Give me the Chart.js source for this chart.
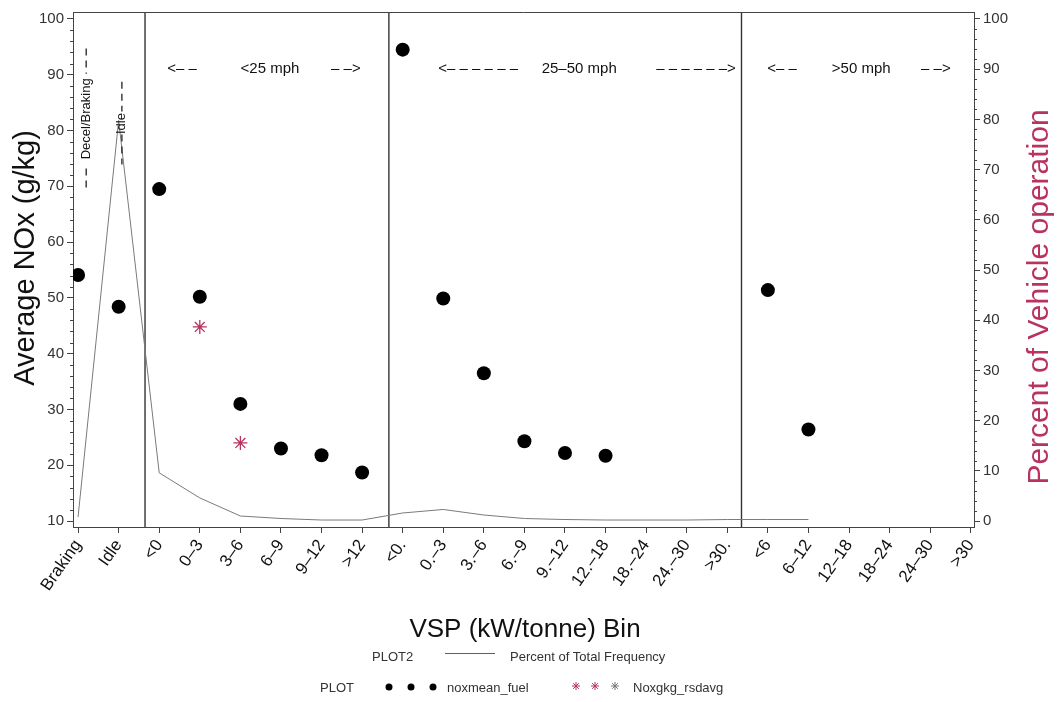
<!DOCTYPE html>
<html>
<head>
<meta charset="utf-8">
<script src="https://cdn.jsdelivr.net/npm/chart.js@4.4.1/dist/chart.umd.min.js"></script>
<style>
  html, body { margin: 0; padding: 0; background: #fff; }
  #wrap { width: 1057px; height: 702px; position: relative; }
  canvas { display: block; }
</style>
</head>
<body>
<div id="wrap"><canvas id="c" width="1057" height="702"></canvas></div>
<script>
// VSP bins, grouped by speed regime
const categories = [
  'Braking', 'Idle',
  '<0', '0–3', '3–6', '6–9', '9–12', '>12',
  '<0.', '0.–3', '3.–6', '6.–9', '9.–12', '12.–18', '18.–24', '24.–30', '>30.',
  '<6', '6–12', '12–18', '18–24', '24–30', '>30'
];

// Average NOx (g/kg) per bin
const noxmeanFuel = [
  54.1, 48.4,
  69.5, 50.2, 31.0, 23.0, 21.8, 18.7,
  94.5, 49.9, 36.5, 24.3, 22.2, 21.7, null, null, null,
  51.4, 26.4, null, null, null, null
];

// Remote-sensing averages (g/kg)
const noxgkgRsdavg = [
  null, null,
  null, 44.8, 24.0, null, null, null,
  null, null, null, null, null, null, null, null, null,
  null, null, null, null, null, null
];

// Percent of total vehicle operation per bin
const percentFrequency = [
  0.8, 79.8,
  9.6, 4.6, 1.0, 0.5, 0.2, 0.2,
  1.6, 2.3, 1.2, 0.5, 0.3, 0.2, 0.2, 0.2, 0.3,
  0.3, 0.3, null, null, null, null
];

const leftTicks = [10, 20, 30, 40, 50, 60, 70, 80, 90, 100];
const rightTicks = [0, 10, 20, 30, 40, 50, 60, 70, 80, 90, 100];

// Regime boundaries (in bin-index units) and the band captions
const regimeDividers = [1.65, 7.66, 16.35];
const bandCaptions = [
  { text: '<– –', at: 2.56 }, { text: '<25 mph', at: 4.73 }, { text: '– –>', at: 6.60 },
  { text: '<– – – – – –', at: 9.86 }, { text: '25–50 mph', at: 12.35 }, { text: '– – – – – –>', at: 15.23 },
  { text: '<– –', at: 17.35 }, { text: '>50 mph', at: 19.30 }, { text: '– –>', at: 21.14 }
];
const bandCaptionLevel = 91.1;
const modeNotes = [
  { text: 'Decel/Braking', at: 0.20, mid: 82.1, dashTop: [94.7, 90.2], dashBottom: [73.2, 69.1] },
  { text: 'Idle', at: 1.08, mid: 81.25, dashTop: [88.75, 83.4], dashBottom: [79.3, 73.9] }
];

const FONT = "'Liberation Sans', Arial, Helvetica, sans-serif";
const AXIS = '#444';
const ROSE = '#b8335f';

Chart.defaults.font.family = FONT;
Chart.defaults.color = '#222';

const toXY = arr => arr.map((v, i) => ({ x: i, y: v }));

const decor = {
  id: 'decor',
  beforeDatasetsDraw(chart) {
    const { ctx, chartArea: a, scales: { x } } = chart;
    ctx.save();
    ctx.strokeStyle = '#333';
    ctx.lineWidth = 1.4;
    regimeDividers.forEach(d => {
      const px = x.getPixelForValue(d);
      ctx.beginPath();
      ctx.moveTo(px, a.top);
      ctx.lineTo(px, a.bottom);
      ctx.stroke();
    });
    ctx.restore();
  },
  afterDraw(chart) {
    const { ctx, chartArea: a, scales: { x, y, y2 } } = chart;
    ctx.save();

    // frame top edge
    ctx.strokeStyle = AXIS;
    ctx.lineWidth = 1;
    ctx.beginPath();
    ctx.moveTo(a.left, a.top + 0.5);
    ctx.lineTo(a.right, a.top + 0.5);
    ctx.stroke();

    // minor ticks on both value axes
    ctx.beginPath();
    for (let v = 10; v <= 100; v += 2) {
      if (v % 10 === 0) continue;
      const py = Math.round(y.getPixelForValue(v)) + 0.5;
      ctx.moveTo(a.left - 3, py); ctx.lineTo(a.left, py);
    }
    for (let v = 0; v <= 100; v += 2) {
      if (v % 10 === 0) continue;
      const py = Math.round(y2.getPixelForValue(v)) + 0.5;
      ctx.moveTo(a.right, py); ctx.lineTo(a.right + 3, py);
    }
    ctx.stroke();

    // speed band captions
    ctx.fillStyle = '#111';
    ctx.font = `15px ${FONT}`;
    ctx.textAlign = 'center';
    ctx.textBaseline = 'middle';
    const capY = y.getPixelForValue(bandCaptionLevel);
    bandCaptions.forEach(c => ctx.fillText(c.text, x.getPixelForValue(c.at), capY));

    // operating-mode notes (vertical)
    ctx.font = `13px ${FONT}`;
    ctx.strokeStyle = '#222';
    ctx.lineWidth = 1.3;
    ctx.setLineDash([7, 5]);
    modeNotes.forEach(n => {
      const px = x.getPixelForValue(n.at);
      [n.dashTop, n.dashBottom].forEach(([v0, v1]) => {
        ctx.beginPath();
        ctx.moveTo(px, y.getPixelForValue(v0));
        ctx.lineTo(px, y.getPixelForValue(v1));
        ctx.stroke();
      });
      ctx.save();
      ctx.translate(px, y.getPixelForValue(n.mid));
      ctx.rotate(-Math.PI / 2);
      ctx.fillText(n.text, 0, 0);
      ctx.restore();
    });
    ctx.setLineDash([]);

    // axis titles
    ctx.fillStyle = '#111';
    ctx.font = `29px ${FONT}`;
    ctx.save();
    ctx.translate(26, 258);
    ctx.rotate(-Math.PI / 2);
    ctx.fillText('Average NOx (g/kg)', 0, 0);
    ctx.restore();

    ctx.fillStyle = ROSE;
    ctx.font = `30px ${FONT}`;
    ctx.save();
    ctx.translate(1040, 297);
    ctx.rotate(-Math.PI / 2);
    ctx.fillText('Percent of Vehicle operation', 0, 0);
    ctx.restore();

    ctx.fillStyle = '#111';
    ctx.font = `26px ${FONT}`;
    ctx.fillText('VSP (kW/tonne) Bin', 525, 630);

    // legend
    ctx.font = `13px ${FONT}`;
    ctx.textAlign = 'left';
    ctx.fillStyle = '#333';
    ctx.fillText('PLOT2', 372, 657);
    ctx.fillText('Percent of Total Frequency', 510, 657);
    ctx.strokeStyle = ROSE;
    ctx.lineWidth = 1;
    ctx.beginPath();
    ctx.moveTo(445, 653.5); ctx.lineTo(495, 653.5);
    ctx.stroke();

    ctx.fillText('PLOT', 320, 688);
    ctx.fillText('noxmean_fuel', 447, 688);
    ctx.fillText('Noxgkg_rsdavg', 633, 688);
    ctx.fillStyle = '#000';
    [389, 411, 433].forEach(cx => {
      ctx.beginPath(); ctx.arc(cx, 687, 3.5, 0, Math.PI * 2); ctx.fill();
    });
    [[576, ROSE], [595, ROSE], [615, '#777']].forEach(([cx, col]) => {
      ctx.strokeStyle = col;
      ctx.lineWidth = 1;
      ctx.beginPath();
      for (let k = 0; k < 4; k++) {
        const ang = k * Math.PI / 4;
        ctx.moveTo(cx - 4 * Math.sin(ang), 686 - 4 * Math.cos(ang));
        ctx.lineTo(cx + 4 * Math.sin(ang), 686 + 4 * Math.cos(ang));
      }
      ctx.stroke();
    });

    ctx.restore();
  }
};

new Chart(document.getElementById('c'), {
  type: 'line',
  data: {
    datasets: [
      {
        label: 'noxmean_fuel',
        data: toXY(noxmeanFuel),
        yAxisID: 'y',
        showLine: false,
        pointRadius: 7,
        pointBackgroundColor: '#000',
        pointBorderWidth: 0,
        order: 1
      },
      {
        label: 'Noxgkg_rsdavg',
        data: toXY(noxgkgRsdavg),
        yAxisID: 'y',
        showLine: false,
        pointStyle: 'star',
        pointRadius: 7,
        pointBorderColor: ROSE,
        pointBorderWidth: 1.3,
        order: 2
      },
      {
        label: 'Percent of Total Frequency',
        data: toXY(percentFrequency),
        yAxisID: 'y2',
        borderColor: '#7a7a7a',
        borderWidth: 1,
        pointRadius: 0,
        tension: 0,
        spanGaps: false,
        order: 3
      }
    ]
  },
  options: {
    responsive: false,
    animation: false,
    devicePixelRatio: 1,
    layout: { padding: { top: 10, left: 0, right: 0, bottom: 0 } },
    plugins: { legend: { display: false }, tooltip: { enabled: false } },
    scales: {
      x: {
        type: 'linear',
        min: -0.125,
        max: 22.08,
        afterBuildTicks: s => { s.ticks = categories.map((c, i) => ({ value: i })); },
        afterFit: s => { s.height = 175; },
        grid: { drawOnChartArea: false, drawTicks: true, tickLength: 6, color: AXIS },
        border: { color: AXIS, width: 1 },
        ticks: {
          autoSkip: false,
          minRotation: 55,
          maxRotation: 55,
          padding: 3,
          color: '#111',
          font: { size: 17 },
          callback: v => categories[v]
        }
      },
      y: {
        position: 'left',
        min: 8.93,
        max: 101.25,
        afterBuildTicks: s => { s.ticks = leftTicks.map(v => ({ value: v })); },
        afterFit: s => { s.width = 73; },
        grid: { drawOnChartArea: false, tickLength: 6, color: AXIS },
        border: { color: AXIS, width: 1 },
        ticks: { color: '#333', font: { size: 15 }, padding: 3 }
      },
      y2: {
        position: 'right',
        min: -1.19,
        max: 101.39,
        afterBuildTicks: s => { s.ticks = rightTicks.map(v => ({ value: v })); },
        afterFit: s => { s.width = 83; },
        grid: { drawOnChartArea: false, tickLength: 6, color: AXIS },
        border: { color: AXIS, width: 1 },
        ticks: { color: '#333', font: { size: 15 }, padding: 3 }
      }
    }
  },
  plugins: [decor]
});
</script>
</body>
</html>
